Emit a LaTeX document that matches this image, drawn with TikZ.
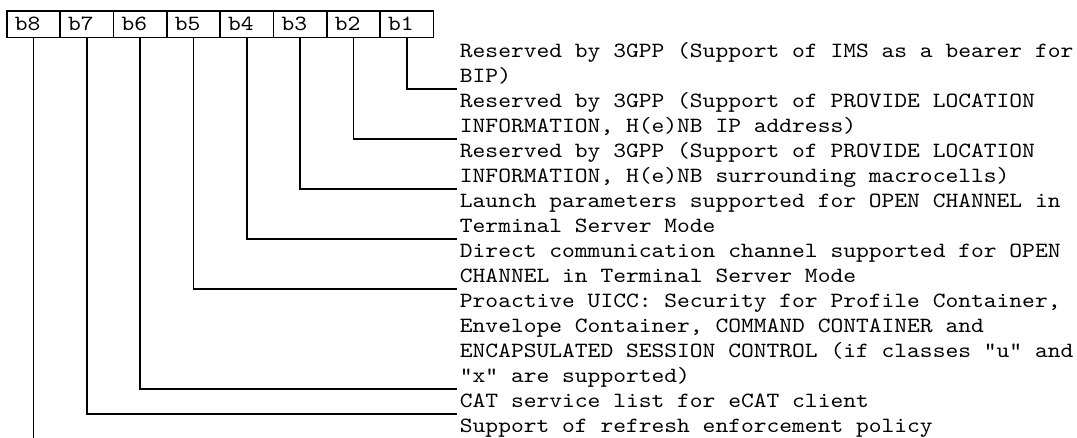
\documentclass[tikz,border=0pt]{standalone}
\usepackage{fontspec}
\setmonofont[FakeStretch=1.12]{lmmono10-regular.otf}
\usepackage{tikz}
\usetikzlibrary{positioning}
\newcommand{\rowstrut}{\rule[-4.75pt]{0pt}{18.75pt}}

\begin{document}
\begin{tikzpicture}[x=0.75pt, y=-0.75pt,
  bitcell/.style={draw, line width=1.3pt, anchor=north west, minimum width=40pt,
    minimum height=20pt, inner xsep=6pt, text width=28pt, align=left,
    font=\ttfamily\fontsize{16.3pt}{18.75pt}\selectfont},
  entry/.style={anchor=north west, align=left, inner xsep=2pt, inner ysep=0pt,
    font=\ttfamily\fontsize{16.3pt}{18.75pt}\selectfont},
  wire/.style={line width=1.3pt}]
  \useasboundingbox (0,0) rectangle (1077,437);
  \node[bitcell] (b8) at (6,10) {b8};
  \node[bitcell] (b7) at (59.33,10) {b7};
  \node[bitcell] (b6) at (112.67,10) {b6};
  \node[bitcell] (b5) at (166,10) {b5};
  \node[bitcell] (b4) at (219.33,10) {b4};
  \node[bitcell] (b3) at (272.67,10) {b3};
  \node[bitcell] (b2) at (326,10) {b2};
  \node[bitcell] (b1) at (379.33,10) {b1};

  \node[entry] (e1) at (457,38.5) {\rowstrut Reserved by 3GPP (Support of IMS as a bearer for\\
    \rowstrut BIP)};
  \node[entry] (e2) at (457,88.5) {\rowstrut Reserved by 3GPP (Support of PROVIDE LOCATION\\
    \rowstrut INFORMATION, H(e)NB IP address)};
  \node[entry] (e3) at (457,138.5) {\rowstrut Reserved by 3GPP (Support of PROVIDE LOCATION\\
    \rowstrut INFORMATION, H(e)NB surrounding macrocells)};
  \node[entry] (e4) at (457,188.5) {\rowstrut Launch parameters supported for OPEN CHANNEL in\\
    \rowstrut Terminal Server Mode};
  \node[entry] (e5) at (457,238.5) {\rowstrut Direct communication channel supported for OPEN\\
    \rowstrut CHANNEL in Terminal Server Mode};
  \node[entry] (e6) at (457,288.5) {\rowstrut Proactive UICC: Security for Profile Container,\\
    \rowstrut Envelope Container, COMMAND CONTAINER and\\
    \rowstrut ENCAPSULATED SESSION CONTROL (if classes "u" and\\
    \rowstrut "x" are supported)};
  \node[entry] (e7) at (457,388.5) {\rowstrut CAT service list for eCAT client};
  \node[entry] (e8) at (457,413.5) {\rowstrut Support of refresh enforcement policy};

  \draw[wire] (b1.south) |- (e1.south west);
  \draw[wire] (b2.south) |- (e2.south west);
  \draw[wire] (b3.south) |- (e3.south west);
  \draw[wire] (b4.south) |- (e4.south west);
  \draw[wire] (b5.south) |- (e5.south west);
  \draw[wire] (b6.south) |- (e6.south west);
  \draw[wire] (b7.south) |- (e7.south west);
  \draw[wire] (b8.south) -- (b8.south |- e8.south);
\end{tikzpicture}
\end{document}
